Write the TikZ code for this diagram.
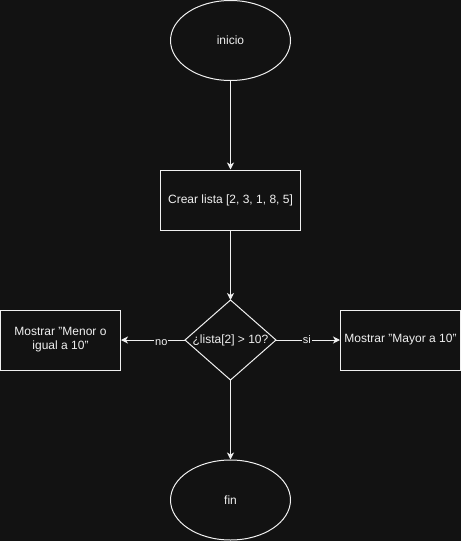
\documentclass[tikz,border=0pt]{standalone}
\usepackage{fontspec}
\setmainfont{Liberation Sans}
\usetikzlibrary{shapes.geometric,arrows.meta}
\definecolor{bg}{HTML}{121212}
\definecolor{ink}{HTML}{F0F0F0}
\tikzset{
  base/.style={draw=ink, line width=1pt, text=ink, font=\fontsize{12}{14}\selectfont, inner sep=0pt},
  terminal/.style={base, ellipse, minimum width=120pt, minimum height=80pt},
  process/.style={base, rectangle, minimum width=140pt, minimum height=60pt},
  output/.style={base, rectangle, minimum width=120pt, minimum height=60pt, align=center},
  decisiontext/.style={text=ink, font=\fontsize{12}{14}\selectfont, inner sep=0pt},
  flow/.style={draw=ink, line width=1pt, -{Stealth[length=7pt,width=7pt,inset=2pt]}},
  edgelabel/.style={fill=bg, text=ink, font=\fontsize{11}{13}\selectfont, inner sep=1pt}
}
\begin{document}
\begin{tikzpicture}[x=1pt,y=-1pt]
  \fill[bg] (0,0) rectangle (461,541);
  \useasboundingbox (0,0) rectangle (461,541);

  % decision diamond corners
  \coordinate (ctop) at (230.5,300);
  \coordinate (cright) at (276,340);
  \coordinate (cbot) at (230.5,380);
  \coordinate (cleft) at (185,340);

  \node[terminal] (inicio) at (230.5,40.5) {inicio};
  \node[process]  (crear)  at (230.5,200) {Crear lista [2, 3, 1, 8, 5]};
  \draw[draw=ink, line width=1pt] (ctop) -- (cright) -- (cbot) -- (cleft) -- cycle;
  \node[decisiontext] (cond) at (230.5,340) {¿lista[2] > 10?};
  \node[output]   (menor)  at (60.5,340) {Mostrar "Menor o\\igual a 10"};
  \node[output]   (mayor)  at (400.5,340) {Mostrar "Mayor a 10"};
  \node[terminal] (fin)    at (230.5,500) {fin};

  \draw[flow] (inicio.south) -- (crear.north);
  \draw[flow] (crear.south) -- (ctop);
  \draw[flow] (cleft) -- node[edgelabel, pos=0.37, yshift=-3pt] {no} (menor.east);
  \draw[flow] (cright) -- node[edgelabel, pos=0.48] {si} (mayor.west);
  \draw[flow] (cbot) -- (fin.north);
\end{tikzpicture}
\end{document}
